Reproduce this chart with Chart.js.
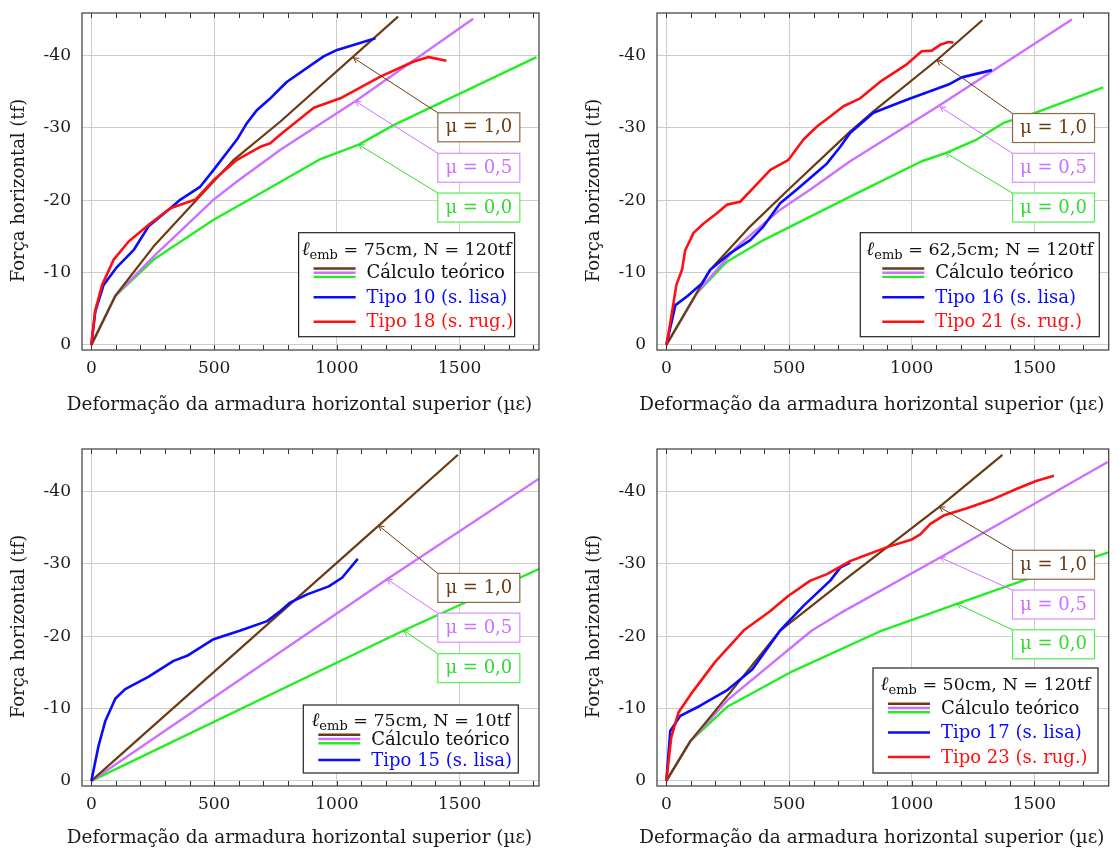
<!DOCTYPE html>
<html>
<head>
<meta charset="utf-8">
<script src="https://cdn.jsdelivr.net/npm/chart.js@4.4.0/dist/chart.umd.min.js"></script>
<style>
body { margin: 0; background: #fff; }
#wrap { position: relative; width: 1119px; height: 850px; }
canvas { position: absolute; }
</style>
</head>
<body>
<div id="wrap">
  <canvas id="c1" width="560" height="417" style="left:0;top:0"></canvas>
  <canvas id="c2" width="544" height="417" style="left:575px;top:0"></canvas>
  <canvas id="c3" width="560" height="414" style="left:0;top:436px"></canvas>
  <canvas id="c4" width="544" height="414" style="left:575px;top:436px"></canvas>
</div>
<script>
// ---- dados: [deformação (µε), força (tf)] ----
const xTicks = [0, 500, 1000, 1500];
const yTicks = [-40, -30, -20, -10, 0];
const minorTicks = [0, 100, 200, 300, 400, 500, 600, 700, 800, 900, 1000, 1100, 1200, 1300, 1400, 1500, 1600, 1700, 1800];

// painel 1: lemb = 75cm, N = 120tf
const p1Mu10 = [[0,0],[98,-6.8],[253,-13.6],[430,-20.1],[580,-25.6],[770,-30.9],[1249,-45.4]];
const p1Mu05 = [[0,0],[98,-6.8],[253,-12.2],[498,-20.1],[593,-22.6],[770,-27.0],[1075,-33.7],[1555,-45.1]];
const p1Mu00 = [[0,0],[98,-6.8],[254,-11.8],[498,-17.3],[716,-21.5],[933,-25.7],[1089,-27.7],[1231,-30.4],[1813,-39.8]];
const p1Tipo10 = [[0,0],[16,-4.6],[50,-8.3],[105,-10.8],[172,-13.1],[233,-16.4],[322,-18.9],[363,-20.1],[444,-21.9],[498,-24.2],[593,-28.4],[634,-30.7],[675,-32.5],[729,-34.1],[770,-35.5],[797,-36.4],[946,-39.9],[1001,-40.8],[1157,-42.4]];
const p1Tipo18 = [[0,0],[16,-4.8],[44,-8.3],[91,-11.8],[152,-14.3],[240,-16.8],[322,-18.9],[424,-20.1],[498,-22.8],[593,-25.6],[688,-27.4],[729,-27.9],[770,-29.1],[906,-32.8],[1014,-34.1],[1177,-37.1],[1313,-39.2],[1374,-39.8],[1446,-39.3]];

// painel 2: lemb = 62,5cm; N = 120tf
const p2Mu10 = [[0,0],[179,-10.4],[342,-16.4],[498,-21.5],[749,-29.5],[844,-32.3],[1103,-39.4],[1288,-44.9]];
const p2Mu05 = [[0,0],[125,-7.2],[288,-13.6],[464,-18.7],[587,-21.5],[749,-25.4],[1103,-32.9],[1653,-45.0]];
const p2Mu00 = [[0,0],[125,-7.2],[247,-11.5],[396,-14.5],[749,-20.5],[1041,-25.4],[1136,-26.5],[1265,-28.4],[1374,-30.7],[1503,-32.1],[1781,-35.6]];
const p2Tipo16 = [[0,0],[37,-5.5],[84,-6.7],[145,-8.5],[179,-10.4],[261,-12.7],[342,-14.5],[396,-16.4],[464,-19.6],[532,-21.5],[655,-25.1],[709,-27.4],[749,-29.3],[844,-32.1],[980,-33.9],[1150,-36.0],[1204,-37.0],[1327,-38.0]];
const p2Tipo21 = [[0,0],[16,-3.0],[41,-8.3],[64,-10.4],[77,-13.1],[111,-15.5],[152,-16.8],[206,-18.2],[247,-19.4],[301,-19.8],[349,-21.5],[424,-24.2],[498,-25.6],[559,-28.4],[614,-30.2],[668,-31.6],[722,-33.0],[790,-34.1],[872,-36.4],[980,-38.8],[1041,-40.6],[1082,-40.7],[1116,-41.5],[1150,-41.9],[1170,-41.8]];

// painel 3: lemb = 75cm, N = 10tf
const p3Mu10 = [[0,0],[1170,-35.3],[1493,-45.1]];
const p3Mu05 = [[0,0],[1204,-27.9],[1823,-41.8]];
const p3Mu00 = [[0,0],[1272,-20.8],[1823,-29.3]];
const p3Tipo15 = [[0,0],[29,-4.8],[57,-8.3],[98,-11.4],[138,-12.7],[232,-14.4],[335,-16.6],[390,-17.3],[498,-19.6],[607,-20.8],[716,-22.1],[770,-23.5],[811,-24.7],[879,-25.8],[967,-26.9],[1021,-28.1],[1085,-30.7]];

// painel 4: lemb = 50cm, N = 120tf
const p4Mu10 = [[0,0],[98,-5.5],[250,-11.8],[464,-20.8],[749,-28.4],[1113,-37.9],[1370,-45.1]];
const p4Mu05 = [[0,0],[98,-5.5],[250,-11.2],[593,-20.8],[709,-23.2],[1116,-30.9],[1799,-44.1]];
const p4Mu00 = [[0,0],[98,-5.5],[250,-10.3],[505,-15.0],[879,-20.8],[1184,-24.5],[1462,-27.8],[1802,-31.6]];
const p4Tipo17 = [[0,0],[16,-6.9],[57,-9.0],[138,-10.4],[250,-12.6],[350,-15.4],[464,-20.8],[559,-24.2],[668,-27.7],[709,-29.5],[749,-30.2]];
const p4Tipo23 = [[0,0],[20,-6.0],[50,-9.5],[100,-12.0],[200,-16.5],[315,-20.8],[424,-23.5],[498,-25.6],[587,-27.7],[655,-28.6],[749,-30.4],[804,-31.1],[906,-32.4],[1001,-33.4],[1035,-34.1],[1075,-35.5],[1130,-36.7],[1225,-37.7],[1334,-39.0],[1429,-40.4],[1510,-41.5],[1580,-42.2]];

const COR = {
  brown: "#6b3c12", brownBox: "#8a6a48",
  pink: "#cc70ff", pinkBox: "#d890ff",
  green: "#22ee22", greenBox: "#55ee55",
  blue: "#0a0aff", red: "#ff1010"
};
const SERIF = "'DejaVu Serif', serif";
const xTitle = "Deformação da armadura horizontal superior (µε)";
const yTitle = "Força horizontal (tf)";

Chart.defaults.font.family = SERIF;
Chart.defaults.font.size = 17;
Chart.defaults.color = "#1a1a1a";

function pts(a) {
    return a.map(p => ({ x: p[0], y: p[1] }));
}

function serie(data, color, w) {
    return { data: pts(data), borderColor: color, borderWidth: w, pointRadius: 0, fill: false, tension: 0, borderJoinStyle: "round" };
}

function drawPin(ctx, xs, ys, p) {
    const tx = xs.getPixelForValue(p.at[0]), ty = ys.getPixelForValue(p.at[1]);
    const bx = xs.getPixelForValue(p.box[0]), by = ys.getPixelForValue(p.box[1]);
    ctx.strokeStyle = p.color;
    ctx.lineWidth = 1;
    ctx.beginPath();
    ctx.moveTo(tx, ty);
    ctx.lineTo(bx, by);
    ctx.stroke();
    const a = Math.atan2(by - ty, bx - tx);
    ctx.beginPath();
    ctx.moveTo(tx + 6 * Math.cos(a + 0.5), ty + 6 * Math.sin(a + 0.5));
    ctx.lineTo(tx, ty);
    ctx.lineTo(tx + 6 * Math.cos(a - 0.5), ty + 6 * Math.sin(a - 0.5));
    ctx.stroke();
    ctx.fillStyle = "#fff";
    ctx.fillRect(bx, by, 82, 29);
    ctx.strokeStyle = p.border;
    ctx.lineWidth = 1.2;
    ctx.strokeRect(bx, by, 82, 29);
    ctx.fillStyle = p.color;
    ctx.font = "18px " + SERIF;
    ctx.textAlign = "center";
    ctx.textBaseline = "middle";
    ctx.fillText(p.text, bx + 41, by + 15);
}

function drawLegend(ctx, area, lg) {
    const x = area.right - lg.dx - lg.w, y = area.bottom - lg.dy - lg.h;
    ctx.fillStyle = "#fff";
    ctx.fillRect(x, y, lg.w, lg.h);
    ctx.strokeStyle = "#222";
    ctx.lineWidth = 1.2;
    ctx.strokeRect(x, y, lg.w, lg.h);
    // título: l_emb = ...
    const f1 = "italic 19px " + SERIF, f2 = "13px " + SERIF, f3 = "17.5px " + SERIF, f4 = "18px " + SERIF;
    ctx.textBaseline = "alphabetic";
    ctx.textAlign = "left";
    ctx.font = f1; const w1 = ctx.measureText("ℓ").width;
    ctx.font = f2; const w2 = ctx.measureText("emb").width;
    ctx.font = f3; const w3 = ctx.measureText(lg.title).width;
    let tx = x + (lg.w - (w1 + w2 + w3)) / 2;
    const base = y + lg.titleY + 6.5;
    ctx.fillStyle = "#111";
    ctx.font = f1; ctx.fillText("ℓ", tx, base); tx += w1;
    ctx.font = f2; ctx.fillText("emb", tx, base + 4); tx += w2;
    ctx.font = f3; ctx.fillText(lg.title, tx, base);
    lg.rows.forEach((r, i) => {
        const ry = y + lg.rowY + i * lg.rowGap;
        const l0 = x + lg.lineX, l1 = l0 + 42;
        const lines = r.teo ? [[COR.brown, -4.2], [COR.pink, 0], [COR.green, 4.2]] : [[r.color, 0]];
        lines.forEach(([c, off]) => {
            ctx.strokeStyle = c;
            ctx.lineWidth = 2.4;
            ctx.beginPath();
            ctx.moveTo(l0, ry + off);
            ctx.lineTo(l1, ry + off);
            ctx.stroke();
        });
        ctx.fillStyle = r.teo ? "#111" : r.color;
        ctx.font = f4;
        ctx.textBaseline = "middle";
        ctx.fillText(r.text, x + lg.textX, ry + 1);
        ctx.textBaseline = "alphabetic";
    });
}

function drawTitles(ctx, a, cfg) {
    ctx.fillStyle = "#1a1a1a";
    ctx.textAlign = "center";
    ctx.textBaseline = "middle";
    ctx.font = "18.4px " + SERIF;
    ctx.fillText(xTitle, (a.left + a.right) / 2 - 11, a.bottom + cfg.xTitleDy);
    ctx.save();
    ctx.translate(19, (a.top + a.bottom) / 2 + 9);
    ctx.rotate(-Math.PI / 2);
    ctx.font = "18px " + SERIF;
    ctx.fillText(yTitle, 0, 0);
    ctx.restore();
}

function panelPlugin(cfg) {
    return {
        id: "painel",
        afterDatasetsDraw(chart) {
            const { ctx, chartArea: a, scales: { x, y } } = chart;
            ctx.save();
            ctx.strokeStyle = "#333";
            ctx.lineWidth = 1;
            minorTicks.forEach(v => {
                const px = Math.round(x.getPixelForValue(v)) + 0.5;
                ctx.beginPath();
                ctx.moveTo(px, a.top); ctx.lineTo(px, a.top + 5);
                ctx.moveTo(px, a.bottom); ctx.lineTo(px, a.bottom - 5);
                ctx.stroke();
            });
            ctx.strokeStyle = "#4a4a4a";
            ctx.lineWidth = 1.3;
            ctx.strokeRect(a.left, a.top, a.right - a.left, a.bottom - a.top);
            cfg.pins.forEach(p => drawPin(ctx, x, y, p));
            drawLegend(ctx, a, cfg.legend);
            drawTitles(ctx, a, cfg);
            ctx.restore();
        }
    };
}

function pinsFor(list, boxX) {
    // list: [[xSeta, ySeta, yCaixa], ...] para mu = 1,0 / 0,5 / 0,0
    const specs = [
        { text: "μ = 1,0", color: COR.brown, border: COR.brownBox },
        { text: "μ = 0,5", color: COR.pink, border: COR.pinkBox },
        { text: "μ = 0,0", color: "#2fdc2f", border: COR.greenBox }
    ];
    return list.map((l, i) => Object.assign({ at: [l[0], l[1]], box: [boxX, l[2]] }, specs[i]));
}

function makePanel(id, cfg) {
    new Chart(document.getElementById(id), {
        type: "line",
        data: { datasets: cfg.series },
        options: {
            responsive: false,
            animation: false,
            layout: { padding: { left: 0, top: 13, right: cfg.padRight, bottom: 0 } },
            plugins: { legend: { display: false }, tooltip: { enabled: false } },
            scales: {
                x: {
                    type: "linear",
                    min: -38,
                    max: cfg.xMax,
                    afterBuildTicks: s => { s.ticks = xTicks.map(v => ({ value: v })); },
                    afterFit: s => { s.height = cfg.xAxisH; s.paddingLeft = 0; s.paddingRight = 0; },
                    ticks: { padding: 8, maxRotation: 0, callback: v => String(v) },
                    grid: { color: "#cdcdcd", drawTicks: false },
                    border: { display: false }
                },
                y: {
                    type: "linear",
                    reverse: true,
                    min: -45.9,
                    max: 0.7,
                    afterBuildTicks: s => { s.ticks = yTicks.map(v => ({ value: v })); },
                    afterFit: s => { s.width = 82; s.paddingTop = 0; s.paddingBottom = 0; },
                    ticks: { padding: 11, callback: v => String(v) },
                    grid: { color: "#cdcdcd", drawTicks: false },
                    border: { display: false }
                }
            }
        },
        plugins: [panelPlugin(cfg)]
    });
}

makePanel("c1", {
    xMax: 1823, padRight: 21, xAxisH: 67, xTitleDy: 55,
    series: [serie(p1Tipo18, COR.red, 2.6), serie(p1Tipo10, COR.blue, 2.6), serie(p1Mu10, COR.brown, 2.2), serie(p1Mu05, COR.pink, 2.4), serie(p1Mu00, COR.green, 2.4)],
    pins: pinsFor([[1067, -39.7, -32.1], [1075, -33.7, -26.5], [1089, -27.7, -21.0]], 1411),
    legend: { dx: 24.4, dy: 13.3, w: 216, h: 104, titleY: 15.6, rowY: 40, rowGap: 24.5, lineX: 15, textX: 68,
        title: " = 75cm, N = 120tf",
        rows: [{ teo: true, text: "Cálculo teórico" }, { color: COR.blue, text: "Tipo 10 (s. lisa)" }, { color: COR.red, text: "Tipo 18 (s. rug.)" }] }
});

makePanel("c2", {
    xMax: 1803, padRight: 10.3, xAxisH: 67, xTitleDy: 55,
    series: [serie(p2Tipo21, COR.red, 2.6), serie(p2Tipo16, COR.blue, 2.6), serie(p2Mu10, COR.brown, 2.2), serie(p2Mu05, COR.pink, 2.4), serie(p2Mu00, COR.green, 2.4)],
    pins: pinsFor([[1103, -39.4, -32.0], [1116, -32.9, -26.5], [1136, -26.6, -21.0]], 1411),
    legend: { dx: 9.4, dy: 13.3, w: 239, h: 104, titleY: 15.6, rowY: 40, rowGap: 24.5, lineX: 22, textX: 75,
        title: " = 62,5cm; N = 120tf",
        rows: [{ teo: true, text: "Cálculo teórico" }, { color: COR.blue, text: "Tipo 16 (s. lisa)" }, { color: COR.red, text: "Tipo 21 (s. rug.)" }] }
});

makePanel("c3", {
    xMax: 1823, padRight: 21, xAxisH: 64, xTitleDy: 52,
    series: [serie(p3Tipo15, COR.blue, 2.6), serie(p3Mu10, COR.brown, 2.2), serie(p3Mu05, COR.pink, 2.4), serie(p3Mu00, COR.green, 2.4)],
    pins: pinsFor([[1170, -35.3, -28.7], [1204, -27.9, -23.2], [1272, -20.8, -17.6]], 1411),
    legend: { dx: 20.7, dy: 13, w: 215, h: 68, titleY: 14, rowY: 34, rowGap: 21, lineX: 15, textX: 68,
        title: " = 75cm, N = 10tf",
        rows: [{ teo: true, text: "Cálculo teórico" }, { color: COR.blue, text: "Tipo 15 (s. lisa)" }] }
});

makePanel("c4", {
    xMax: 1803, padRight: 10.3, xAxisH: 64, xTitleDy: 52,
    series: [serie(p4Tipo23, COR.red, 2.6), serie(p4Tipo17, COR.blue, 2.6), serie(p4Mu10, COR.brown, 2.2), serie(p4Mu05, COR.pink, 2.4), serie(p4Mu00, COR.green, 2.4)],
    pins: pinsFor([[1113, -37.9, -31.9], [1116, -30.9, -26.4], [1184, -24.5, -20.9]], 1411),
    legend: { dx: 10.7, dy: 13, w: 225, h: 105, titleY: 15.6, rowY: 40, rowGap: 24.5, lineX: 15, textX: 68,
        title: " = 50cm, N = 120tf",
        rows: [{ teo: true, text: "Cálculo teórico" }, { color: COR.blue, text: "Tipo 17 (s. lisa)" }, { color: COR.red, text: "Tipo 23 (s. rug.)" }] }
});
</script>
</body>
</html>
